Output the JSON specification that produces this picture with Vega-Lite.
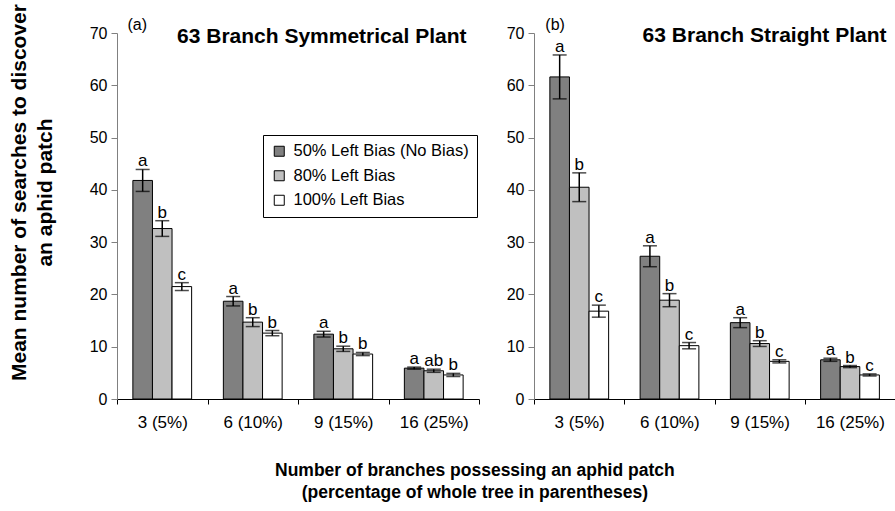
{
  "$schema": "https://vega.github.io/schema/vega-lite/v6.json",
  "background": "white",
  "autosize": {"type": "pad"},
  "padding": {"left": 8, "top": 3, "right": 0, "bottom": 5},
  "bounds": "flush",
  "spacing": 55,
  "config": {"font": "Liberation Sans", "view": {"stroke": null}},
  "datasets": {
    "d": [
      {"panel": "a", "group": "3 (5%)", "bias": "50% Left Bias (No Bias)", "mean": 41.8, "lo": 39.7, "hi": 43.9, "letter": "a"},
      {"panel": "a", "group": "3 (5%)", "bias": "80% Left Bias", "mean": 32.6, "lo": 31.1, "hi": 34.1, "letter": "b"},
      {"panel": "a", "group": "3 (5%)", "bias": "100% Left Bias", "mean": 21.5, "lo": 20.75, "hi": 22.25, "letter": "c"},
      {"panel": "a", "group": "6 (10%)", "bias": "50% Left Bias (No Bias)", "mean": 18.7, "lo": 17.8, "hi": 19.6, "letter": "a"},
      {"panel": "a", "group": "6 (10%)", "bias": "80% Left Bias", "mean": 14.7, "lo": 13.85, "hi": 15.55, "letter": "b"},
      {"panel": "a", "group": "6 (10%)", "bias": "100% Left Bias", "mean": 12.6, "lo": 12.1, "hi": 13.1, "letter": "b"},
      {"panel": "a", "group": "9 (15%)", "bias": "50% Left Bias (No Bias)", "mean": 12.4, "lo": 11.85, "hi": 12.95, "letter": "a"},
      {"panel": "a", "group": "9 (15%)", "bias": "80% Left Bias", "mean": 9.6, "lo": 9.1, "hi": 10.1, "letter": "b"},
      {"panel": "a", "group": "9 (15%)", "bias": "100% Left Bias", "mean": 8.6, "lo": 8.3, "hi": 8.9, "letter": "b"},
      {"panel": "a", "group": "16 (25%)", "bias": "50% Left Bias (No Bias)", "mean": 5.9, "lo": 5.7, "hi": 6.1, "letter": "a"},
      {"panel": "a", "group": "16 (25%)", "bias": "80% Left Bias", "mean": 5.4, "lo": 5.1, "hi": 5.7, "letter": "ab"},
      {"panel": "a", "group": "16 (25%)", "bias": "100% Left Bias", "mean": 4.6, "lo": 4.3, "hi": 4.9, "letter": "b"},
      {"panel": "b", "group": "3 (5%)", "bias": "50% Left Bias (No Bias)", "mean": 61.6, "lo": 57.4, "hi": 65.8, "letter": "a"},
      {"panel": "b", "group": "3 (5%)", "bias": "80% Left Bias", "mean": 40.5, "lo": 37.75, "hi": 43.25, "letter": "b"},
      {"panel": "b", "group": "3 (5%)", "bias": "100% Left Bias", "mean": 16.8, "lo": 15.65, "hi": 17.95, "letter": "c"},
      {"panel": "b", "group": "6 (10%)", "bias": "50% Left Bias (No Bias)", "mean": 27.3, "lo": 25.3, "hi": 29.3, "letter": "a"},
      {"panel": "b", "group": "6 (10%)", "bias": "80% Left Bias", "mean": 18.9, "lo": 17.65, "hi": 20.15, "letter": "b"},
      {"panel": "b", "group": "6 (10%)", "bias": "100% Left Bias", "mean": 10.2, "lo": 9.6, "hi": 10.8, "letter": "c"},
      {"panel": "b", "group": "9 (15%)", "bias": "50% Left Bias (No Bias)", "mean": 14.6, "lo": 13.65, "hi": 15.55, "letter": "a"},
      {"panel": "b", "group": "9 (15%)", "bias": "80% Left Bias", "mean": 10.6, "lo": 10.05, "hi": 11.15, "letter": "b"},
      {"panel": "b", "group": "9 (15%)", "bias": "100% Left Bias", "mean": 7.2, "lo": 6.9, "hi": 7.5, "letter": "c"},
      {"panel": "b", "group": "16 (25%)", "bias": "50% Left Bias (No Bias)", "mean": 7.5, "lo": 7.2, "hi": 7.8, "letter": "a"},
      {"panel": "b", "group": "16 (25%)", "bias": "80% Left Bias", "mean": 6.2, "lo": 6.0, "hi": 6.4, "letter": "b"},
      {"panel": "b", "group": "16 (25%)", "bias": "100% Left Bias", "mean": 4.6, "lo": 4.4, "hi": 4.8, "letter": "c"}
    ],
    "tagA": [{"lab": "(a)"}],
    "tagB": [{"lab": "(b)"}]
  },
  "title": {
    "text": ["Number of branches possessing an aphid patch", "(percentage of whole tree in parentheses)"],
    "orient": "bottom", "anchor": "middle", "frame": "bounds",
    "fontSize": 17.5, "fontWeight": "bold", "lineHeight": 22, "color": "black",
    "offset": 32, "dx": 23
  },
  "resolve": {"scale": {"color": "independent"}, "legend": {"color": "independent"}},
  "hconcat": [
    {
      "width": 362, "height": 366,
      "title": {"text": "63 Branch Symmetrical Plant", "anchor": "end", "baseline": "alphabetic", "offset": -60, "dx": -13, "fontSize": 21, "fontWeight": "bold", "color": "black"},
      "layer": [
        {
          "data": {"name": "d"},
          "transform": [{"filter": "datum.panel == 'a'"}],
          "mark": {"type": "bar", "stroke": "black", "strokeWidth": 1},
          "encoding": {
            "x": {"field": "group", "type": "nominal", "sort": ["3 (5%)", "6 (10%)", "9 (15%)", "16 (25%)"], "scale": {"paddingInner": 0, "paddingOuter": 0},
              "axis": {"title": null, "labelAngle": 0, "labelFontSize": 17, "labelColor": "black", "tickBand": "extent", "tickSize": 5, "labelPadding": 10, "domainColor": "black", "tickColor": "black"}},
            "xOffset": {"field": "bias", "type": "nominal", "sort": ["50% Left Bias (No Bias)", "80% Left Bias", "100% Left Bias"], "scale": {"paddingInner": 0, "paddingOuter": 0.81}},
            "y": {"field": "mean", "type": "quantitative", "scale": {"domain": [0, 70], "nice": false},
              "axis": {"title": ["Mean number of searches to discover", "an aphid patch"], "titleFontSize": 21, "titleFontWeight": "bold", "titleColor": "black", "titleLineHeight": 26, "titlePadding": 34, "titleAnchor": "middle", "titleY": 159,
                "values": [0, 10, 20, 30, 40, 50, 60, 70], "grid": false, "tickSize": 6, "labelFontSize": 16, "labelColor": "black", "labelPadding": 4, "domainColor": "#808080", "tickColor": "#808080"}},
            "color": {"field": "bias", "type": "nominal", "sort": ["50% Left Bias (No Bias)", "80% Left Bias", "100% Left Bias"],
              "scale": {"domain": ["50% Left Bias (No Bias)", "80% Left Bias", "100% Left Bias"], "range": ["#808080", "#c0c0c0", "#ffffff"]},
              "legend": {"orient": "none", "legendX": 146, "legendY": 102, "title": null, "strokeColor": "black", "fillColor": "white", "padding": 8, "symbolType": "square", "symbolSize": 100, "symbolStrokeColor": "black", "symbolStrokeWidth": 1, "labelFontSize": 16.5, "labelColor": "black", "labelOffset": 6, "labelLimit": 400, "rowPadding": 7.5, "symbolOpacity": 1}}
          }
        },
        {
          "data": {"name": "d"},
          "transform": [{"filter": "datum.panel == 'a'"}],
          "mark": {"type": "rule", "color": "black", "strokeWidth": 1.5},
          "encoding": {
            "x": {"field": "group", "type": "nominal", "sort": ["3 (5%)", "6 (10%)", "9 (15%)", "16 (25%)"]},
            "xOffset": {"field": "bias", "type": "nominal", "sort": ["50% Left Bias (No Bias)", "80% Left Bias", "100% Left Bias"]},
            "y": {"field": "lo", "type": "quantitative"},
            "y2": {"field": "hi"}
          }
        },
        {
          "data": {"name": "d"},
          "transform": [{"filter": "datum.panel == 'a'"}],
          "mark": {"type": "tick", "color": "black", "size": 14, "thickness": 1.5},
          "encoding": {
            "x": {"field": "group", "type": "nominal", "sort": ["3 (5%)", "6 (10%)", "9 (15%)", "16 (25%)"]},
            "xOffset": {"field": "bias", "type": "nominal", "sort": ["50% Left Bias (No Bias)", "80% Left Bias", "100% Left Bias"]},
            "y": {"field": "lo", "type": "quantitative"}
          }
        },
        {
          "data": {"name": "d"},
          "transform": [{"filter": "datum.panel == 'a'"}],
          "mark": {"type": "tick", "color": "black", "size": 14, "thickness": 1.5},
          "encoding": {
            "x": {"field": "group", "type": "nominal", "sort": ["3 (5%)", "6 (10%)", "9 (15%)", "16 (25%)"]},
            "xOffset": {"field": "bias", "type": "nominal", "sort": ["50% Left Bias (No Bias)", "80% Left Bias", "100% Left Bias"]},
            "y": {"field": "hi", "type": "quantitative"}
          }
        },
        {
          "data": {"name": "d"},
          "transform": [{"filter": "datum.panel == 'a'"}],
          "mark": {"type": "text", "fontSize": 17, "baseline": "alphabetic", "dy": -3, "color": "black"},
          "encoding": {
            "x": {"field": "group", "type": "nominal", "sort": ["3 (5%)", "6 (10%)", "9 (15%)", "16 (25%)"]},
            "xOffset": {"field": "bias", "type": "nominal", "sort": ["50% Left Bias (No Bias)", "80% Left Bias", "100% Left Bias"]},
            "y": {"field": "hi", "type": "quantitative"},
            "text": {"field": "letter"}
          }
        },
        {
          "data": {"name": "tagA"},
          "mark": {"type": "text", "fontSize": 16, "baseline": "alphabetic", "dx": -25, "dy": -3, "color": "black"},
          "encoding": {
            "x": {"datum": "3 (5%)", "type": "nominal"},
            "y": {"datum": 70, "type": "quantitative"},
            "text": {"field": "lab"}
          }
        }
      ]
    },
    {
      "width": 361, "height": 366,
      "title": {"text": "63 Branch Straight Plant", "anchor": "end", "baseline": "alphabetic", "offset": -46, "dx": -9, "fontSize": 21, "fontWeight": "bold", "color": "black"},
      "layer": [
        {
          "data": {"name": "d"},
          "transform": [{"filter": "datum.panel == 'b'"}],
          "mark": {"type": "bar", "stroke": "black", "strokeWidth": 1},
          "encoding": {
            "x": {"field": "group", "type": "nominal", "sort": ["3 (5%)", "6 (10%)", "9 (15%)", "16 (25%)"], "scale": {"paddingInner": 0, "paddingOuter": 0},
              "axis": {"title": null, "labelAngle": 0, "labelFontSize": 17, "labelColor": "black", "tickBand": "extent", "tickSize": 5, "labelPadding": 10, "domainColor": "black", "tickColor": "black"}},
            "xOffset": {"field": "bias", "type": "nominal", "sort": ["50% Left Bias (No Bias)", "80% Left Bias", "100% Left Bias"], "scale": {"paddingInner": 0, "paddingOuter": 0.81}},
            "y": {"field": "mean", "type": "quantitative", "scale": {"domain": [0, 70], "nice": false},
              "axis": {"title": null, "values": [0, 10, 20, 30, 40, 50, 60, 70], "grid": false, "tickSize": 6, "labelFontSize": 16, "labelColor": "black", "labelPadding": 4, "domainColor": "#808080", "tickColor": "#808080"}},
            "color": {"field": "bias", "type": "nominal",
              "scale": {"domain": ["50% Left Bias (No Bias)", "80% Left Bias", "100% Left Bias"], "range": ["#808080", "#c0c0c0", "#ffffff"]},
              "legend": null}
          }
        },
        {
          "data": {"name": "d"},
          "transform": [{"filter": "datum.panel == 'b'"}],
          "mark": {"type": "rule", "color": "black", "strokeWidth": 1.5},
          "encoding": {
            "x": {"field": "group", "type": "nominal", "sort": ["3 (5%)", "6 (10%)", "9 (15%)", "16 (25%)"]},
            "xOffset": {"field": "bias", "type": "nominal", "sort": ["50% Left Bias (No Bias)", "80% Left Bias", "100% Left Bias"]},
            "y": {"field": "lo", "type": "quantitative"},
            "y2": {"field": "hi"}
          }
        },
        {
          "data": {"name": "d"},
          "transform": [{"filter": "datum.panel == 'b'"}],
          "mark": {"type": "tick", "color": "black", "size": 14, "thickness": 1.5},
          "encoding": {
            "x": {"field": "group", "type": "nominal", "sort": ["3 (5%)", "6 (10%)", "9 (15%)", "16 (25%)"]},
            "xOffset": {"field": "bias", "type": "nominal", "sort": ["50% Left Bias (No Bias)", "80% Left Bias", "100% Left Bias"]},
            "y": {"field": "lo", "type": "quantitative"}
          }
        },
        {
          "data": {"name": "d"},
          "transform": [{"filter": "datum.panel == 'b'"}],
          "mark": {"type": "tick", "color": "black", "size": 14, "thickness": 1.5},
          "encoding": {
            "x": {"field": "group", "type": "nominal", "sort": ["3 (5%)", "6 (10%)", "9 (15%)", "16 (25%)"]},
            "xOffset": {"field": "bias", "type": "nominal", "sort": ["50% Left Bias (No Bias)", "80% Left Bias", "100% Left Bias"]},
            "y": {"field": "hi", "type": "quantitative"}
          }
        },
        {
          "data": {"name": "d"},
          "transform": [{"filter": "datum.panel == 'b'"}],
          "mark": {"type": "text", "fontSize": 17, "baseline": "alphabetic", "dy": -3, "color": "black"},
          "encoding": {
            "x": {"field": "group", "type": "nominal", "sort": ["3 (5%)", "6 (10%)", "9 (15%)", "16 (25%)"]},
            "xOffset": {"field": "bias", "type": "nominal", "sort": ["50% Left Bias (No Bias)", "80% Left Bias", "100% Left Bias"]},
            "y": {"field": "hi", "type": "quantitative"},
            "text": {"field": "letter"}
          }
        },
        {
          "data": {"name": "tagB"},
          "mark": {"type": "text", "fontSize": 16, "baseline": "alphabetic", "dx": -24, "dy": -3, "color": "black"},
          "encoding": {
            "x": {"datum": "3 (5%)", "type": "nominal"},
            "y": {"datum": 70, "type": "quantitative"},
            "text": {"field": "lab"}
          }
        }
      ]
    }
  ]
}
